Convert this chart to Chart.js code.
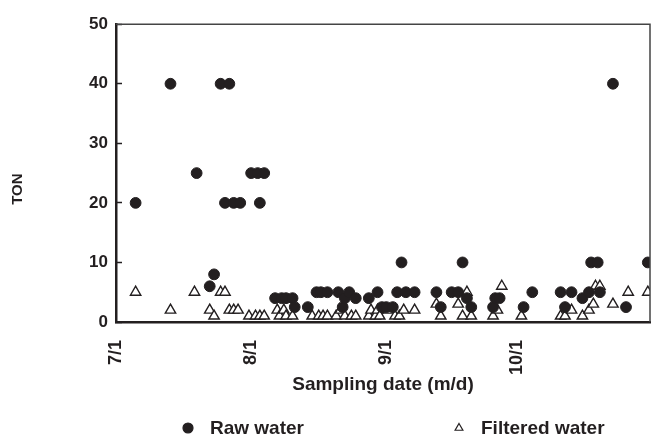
<!DOCTYPE html>
<html lang="en">
<head>
<meta charset="UTF-8">
<title>TON - Sampling date</title>
<script src="https://cdn.jsdelivr.net/npm/chart.js@4/dist/chart.umd.min.js"></script>
<style>
  html, body { margin: 0; padding: 0; background: #fff; }
</style>
</head>
<body>
<canvas id="tonChart" width="651" height="436"></canvas>
<script>
// x = days counted from 7/1 (day 0)
const tickDays = [0, 31, 62, 92];
const tickLabels = ['7/1', '8/1', '9/1', '10/1'];

const rawDays = [4.5, 12.5, 18.5, 21.5, 22.5, 24, 25, 26, 27, 28.5,
  31, 32.5, 33, 34, 36.5, 38, 39, 40.5, 41, 44,
  46, 47, 48.5, 51, 52, 52.5, 53.5, 55, 58, 60,
  61, 62, 63.5, 64.5, 65.5, 66.5, 68.5, 73.5, 74.5, 77,
  78.5, 79.5, 80.5, 81.5, 86.5, 87, 88, 93.5, 95.5, 102,
  103, 104.5, 107, 108.5, 109, 110.5, 111, 114, 117, 122];
const rawTon = [20, 40, 25, 6, 8, 40, 20, 40, 20, 20,
  25, 25, 20, 25, 4, 4, 4, 4, 2.5, 2.5,
  5, 5, 5, 5, 2.5, 4, 5, 4, 4, 5,
  2.5, 2.5, 2.5, 5, 10, 5, 5, 5, 2.5, 5,
  5, 10, 4, 2.5, 2.5, 4, 4, 2.5, 5, 5,
  2.5, 5, 4, 5, 10, 10, 5, 40, 2.5, 10];

const filteredDays = [4.5, 12.5, 18, 21.5, 22.5, 24, 25, 26, 27, 28,
  30.5, 32, 33, 34, 37, 37.5, 38.5, 39, 40.5, 45,
  46.5, 47.5, 48.5, 50.5, 51.5, 52.5, 54, 55, 58, 58.5,
  59.5, 60, 60.5, 62.5, 64, 65, 66, 68.5, 73.5, 74.5,
  78.5, 79.5, 80.5, 81.5, 86.5, 87.5, 88.5, 93, 102, 103,
  104.5, 107, 108.5, 109.5, 110, 111, 114, 117.5, 122];
const filteredTon = [5, 2, 5, 2, 1, 5, 5, 2, 2, 2,
  1, 1, 1, 1, 2, 1, 2, 1, 1, 1,
  1, 1, 1, 1, 2, 1, 1, 1, 1, 2,
  1, 2, 1, 2, 1, 1, 2, 2, 3, 1,
  3, 1, 5, 1, 1, 2, 6, 1, 1, 1,
  2, 1, 2, 3, 6, 6, 3, 5, 5];

const ink = '#231f20';
const fontFamily = '"Liberation Sans", Arial, sans-serif';

function toPoints(days, values) {
  return days.map((d, i) => ({ x: d, y: values[i] }));
}

// top/right edges of the plot box and the y title (sits a bit below centre)
const frameLines = {
  id: 'frameLines',
  afterDraw(chart) {
    const { ctx, chartArea: a } = chart;
    ctx.save();
    ctx.strokeStyle = '#444';
    ctx.lineWidth = 1.5;
    ctx.beginPath();
    ctx.moveTo(a.left, a.top);
    ctx.lineTo(a.right, a.top);
    ctx.lineTo(a.right, a.bottom);
    ctx.stroke();

    ctx.translate(18, (a.top + a.bottom) / 2 + 16);
    ctx.rotate(-Math.PI / 2);
    ctx.font = 'bold 15px ' + fontFamily;
    ctx.fillStyle = ink;
    ctx.textAlign = 'center';
    ctx.textBaseline = 'middle';
    ctx.fillText('TON', 0, 0);
    ctx.restore();
  }
};

// legend row under the axis title
const bottomLegend = {
  id: 'bottomLegend',
  afterDraw(chart) {
    const ctx = chart.ctx;
    const spots = [188, 459];
    const y = 428;
    ctx.save();
    ctx.font = 'bold 19px ' + fontFamily;
    ctx.textBaseline = 'middle';
    chart.data.datasets.forEach((ds, i) => {
      ctx.fillStyle = ds.backgroundColor;
      ctx.strokeStyle = ds.borderColor;
      ctx.lineWidth = 1.2;
      Chart.helpers.drawPoint(ctx, { pointStyle: ds.pointStyle, radius: i === 0 ? 5 : 4.5, borderWidth: 1.2 }, spots[i], y);
      ctx.fillStyle = ink;
      ctx.fillText(ds.label, spots[i] + 22, y + 1);
    });
    ctx.restore();
  }
};

new Chart(document.getElementById('tonChart'), {
  type: 'scatter',
  data: {
    datasets: [{
      label: 'Raw water',
      data: toPoints(rawDays, rawTon),
      pointStyle: 'circle',
      pointRadius: 5.4,
      borderWidth: 1,
      backgroundColor: ink,
      borderColor: ink,
      clip: 0
    }, {
      label: 'Filtered water',
      data: toPoints(filteredDays, filteredTon),
      pointStyle: 'triangle',
      pointRadius: 6,
      borderWidth: 1.4,
      backgroundColor: '#ffffff',
      borderColor: ink,
      clip: 0
    }]
  },
  options: {
    responsive: false,
    animation: false,
    layout: { autoPadding: false, padding: { top: 21, right: 1, left: 0, bottom: 0 } },
    plugins: {
      legend: { display: false },
      tooltip: { enabled: false }
    },
    scales: {
      x: {
        type: 'linear',
        min: 0,
        max: 122.5,
        afterBuildTicks: (scale) => { scale.ticks = tickDays.map(v => ({ value: v })); },
        afterFit: (scale) => {
          scale.height = 114;
          scale.paddingLeft = 0;
          scale.paddingRight = 0;
        },
        grid: { drawOnChartArea: false, drawTicks: false },
        border: { display: true, color: ink, width: 2.5 },
        ticks: {
          autoSkip: false,
          minRotation: 90,
          maxRotation: 90,
          padding: 18,
          color: ink,
          font: { family: fontFamily, size: 18, weight: 'bold' },
          callback: (value, index) => tickLabels[index]
        },
        title: {
          display: true,
          text: 'Sampling date (m/d)',
          color: ink,
          font: { family: fontFamily, size: 19, weight: 'bold' },
          padding: { top: 0, bottom: 40 }
        }
      },
      y: {
        min: 0,
        max: 50,
        afterFit: (scale) => { scale.width = 116; },
        grid: { drawOnChartArea: false, drawTicks: true, tickLength: -6, tickWidth: 1.5, color: ink },
        border: { display: true, color: ink, width: 2.5 },
        ticks: {
          stepSize: 10,
          padding: 14,
          color: ink,
          font: { family: fontFamily, size: 17, weight: 'bold' }
        },
        title: { display: false }
      }
    }
  },
  plugins: [frameLines, bottomLegend]
});
</script>
</body>
</html>
